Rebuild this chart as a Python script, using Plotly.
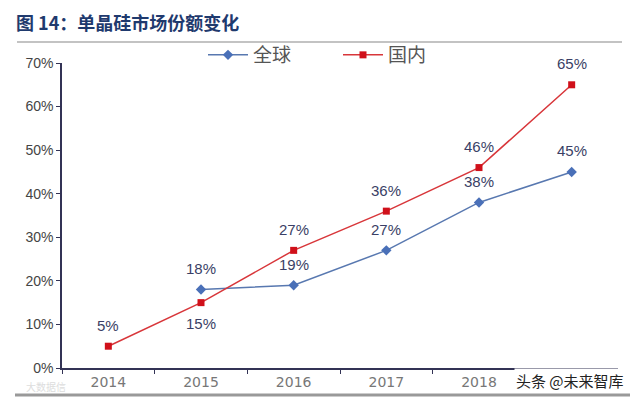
import plotly.graph_objects as go

categories = ["2014", "2015", "2016", "2017", "2018", "2019E"]
tick_labels = ["2014", "2015", "2016", "2017", "2018", ""]
global_share = [None, 0.18, 0.19, 0.27, 0.38, 0.45]
domestic_share = [0.05, 0.15, 0.27, 0.36, 0.46, 0.65]
global_label_dir = [1, 1, 1, 1, 1, 1]
domestic_label_dir = [1, -1, 1, 1, 1, 1]
y_ticks = [0, 0.1, 0.2, 0.3, 0.4, 0.5, 0.6, 0.7]

label_font = dict(family="Liberation Sans Narrow, Liberation Sans, Arial", size=15, color="#3a3f66")

OFF = 8  # page body margin offset
L, T, R, B = 62 - OFF, 63 - OFF, 618 - OFF, 368 - OFF
PH = float(B - T)
PW = float(R - L)

def py(screen_y):
    return 1 - (screen_y - OFF - T) / PH

def px(screen_x):
    return (screen_x - OFF - L) / PW

fig = go.Figure()
fig.add_trace(go.Scatter(
    x=categories, y=global_share, name="全球", mode="lines+markers",
    line=dict(color="#5878b0", width=1.5),
    marker=dict(symbol="diamond", size=8, color="#4a70b8"),
))
fig.add_trace(go.Scatter(
    x=categories, y=domestic_share, name="国内", mode="lines+markers",
    line=dict(color="#d8363a", width=1.5),
    marker=dict(symbol="square", size=7, color="#d0101a"),
))

for series, dirs in ((global_share, global_label_dir), (domestic_share, domestic_label_dir)):
    for i, (v, d) in enumerate(zip(series, dirs)):
        if v is None:
            continue
        fig.add_annotation(x=i, y=v, xref="x", yref="y", text=f"{round(v*100)}%",
                           showarrow=False, yshift=21 * d, font=label_font)

fig.update_layout(
    width=640, height=398,
    margin=dict(l=L, r=640 - R, t=T, b=398 - B, autoexpand=False),
    paper_bgcolor="white", plot_bgcolor="white",
    showlegend=True,
    legend=dict(orientation="h", x=px(203), xanchor="left", y=py(55), yanchor="middle",
                font=dict(family="Noto Sans CJK SC", size=19, color="#555"),
                itemwidth=40, entrywidth=80, tracegroupgap=0, bgcolor="rgba(0,0,0,0)"),
    xaxis=dict(type="category", tickmode="array", tickvals=categories, ticktext=tick_labels,
               showline=True, linecolor="#333355", linewidth=1.5,
               ticks="outside", ticklen=4, tickcolor="#333355", tickson="boundaries",
               showgrid=False, zeroline=False,
               tickfont=dict(family="DejaVu Sans", size=14, color="#777"),
               range=[-0.5, 5.5]),
    yaxis=dict(range=[0, 0.7], tickvals=y_ticks, tickformat=".0%",
               showline=True, linecolor="#333355", linewidth=1.5,
               ticks="outside", ticklen=4, tickcolor="#333355",
               showgrid=False, zeroline=False,
               tickfont=dict(family="Liberation Sans Narrow, Liberation Sans", size=14, color="#444")),
)

fig.add_annotation(text="<b>图 14：单晶硅市场份额变化</b>", xref="paper", yref="paper",
                   x=px(15), y=py(22), xanchor="left", yanchor="middle", showarrow=False,
                   borderpad=0,
                   font=dict(family="Noto Sans CJK SC", size=18, color="#1f3a6e"))
fig.add_shape(type="line", xref="paper", yref="paper", x0=px(17), x1=px(622), y0=py(42), y1=py(42),
              line=dict(color="#888", width=1.2))
fig.add_shape(type="line", xref="paper", yref="paper", x0=px(15), x1=px(630), y0=py(395), y1=py(395),
              line=dict(color="#999", width=3))
fig.add_annotation(text="头条 @未来智库", xref="paper", yref="paper", x=px(626), y=py(380),
                   xanchor="right", yanchor="middle", showarrow=False, bgcolor="white",
                   font=dict(family="Noto Sans CJK SC", size=15, color="#222"))
fig.add_annotation(text="大数据信", xref="paper", yref="paper", x=px(24), y=py(386),
                   xanchor="left", yanchor="middle", showarrow=False,
                   font=dict(family="Noto Sans CJK SC", size=10, color="#ddd"))

fig.write_html("out.html")
